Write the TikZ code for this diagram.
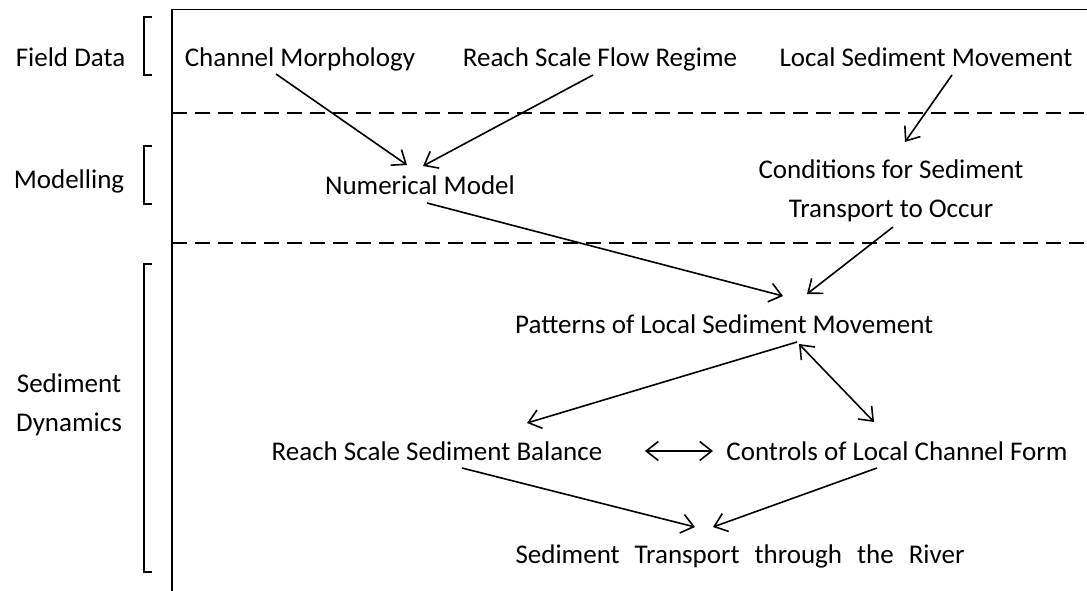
\documentclass[tikz,border=0pt]{standalone}
\usepackage{fontspec}
\setmainfont{Carlito}
\usepackage{tikz}
\usetikzlibrary{arrows.meta}

\tikzset{
    lbl/.style={font=\fontsize{27}{39}\selectfont, inner sep=0pt, align=center},
    arr/.style={-{Straight Barb[length=12pt,width=19pt]}, line width=1.6pt},
    dblarr/.style={{Straight Barb[length=12pt,width=19pt]}-{Straight Barb[length=12pt,width=19pt]}, line width=1.6pt},
    frame/.style={line width=1.6pt},
    band/.style={line width=1.6pt, dash pattern=on 15pt off 8pt}
}

\begin{document}
\begin{tikzpicture}[x=1pt, y=-1pt]
    \useasboundingbox (0,0) rectangle (1087,591);

    % Frame and band separators
    \draw[frame] (1087,9.5) -- (172,9.5) -- (172,591);
    \draw[band] (172,113) -- (1087,113);
    \draw[band] (172,243) -- (1087,243);

    % Stage labels with brackets
    \node[lbl, anchor=base] (field) at (70.5,67) {Field Data};
    \node[lbl, anchor=base] (model) at (69,188) {Modelling};
    \node[lbl, anchor=center] (dyn) at (69,405) {Sediment\\Dynamics};
    \draw[frame] (152,17) -- (144,17) -- (144,75) -- (152,75);
    \draw[frame] (152,146) -- (144,146) -- (144,204) -- (152,204);
    \draw[frame] (152,264) -- (144,264) -- (144,572) -- (152,572);

    % Field data
    \node[lbl, anchor=base] (chan) at (300,67) {Channel Morphology};
    \node[lbl, anchor=base] (flow) at (600,67) {Reach Scale Flow Regime};
    \node[lbl, anchor=base] (lsm) at (926,67) {Local Sediment Movement};

    % Modelling
    \node[lbl, anchor=base] (num) at (420,194) {Numerical Model};
    \node[lbl, anchor=center] (cond) at (891,191) {Conditions for Sediment\\Transport to Occur};

    % Sediment dynamics
    \node[lbl, anchor=base west] (pat) at (515,333) {Patterns of Local Sediment Movement};
    \node[lbl, anchor=base] (bal) at (437,460) {Reach Scale Sediment Balance};
    \node[lbl, anchor=base] (ctrl) at (897,460) {Controls of Local Channel Form};
    \node[lbl, anchor=base] (riv) at (740,563) {\spaceskip=15pt Sediment Transport through the River};

    % Links
    \draw[arr] ([shift={(-24,7)}]chan.base) -- ([shift={(-13,-29)}]num.base);
    \draw[arr] ([shift={(-7,8)}]flow.base) -- ([shift={(3,-28)}]num.base);
    \draw[arr] ([shift={(26,8)}]lsm.base) -- ([shift={(14,-49)}]cond.center);
    \draw[arr] ([shift={(7,9)}]num.base) -- ([shift={(268,-37)}]pat.base west);
    \draw[arr] ([shift={(2,36)}]cond.center) -- ([shift={(292,-39)}]pat.base west);
    \draw[arr] ([shift={(282,9)}]pat.base west) -- ([shift={(90,-37)}]bal.base);
    \draw[dblarr] ([shift={(284,11)}]pat.base west) -- ([shift={(-23,-38)}]ctrl.base);
    \draw[dblarr] ([shift={(208,-9)}]bal.base) -- ([shift={(-184,-9)}]ctrl.base);
    \draw[arr] ([shift={(25,8)}]bal.base) -- ([shift={(-45,-36)}]riv.base);
    \draw[arr] ([shift={(-20,8)}]ctrl.base) -- ([shift={(-27,-36)}]riv.base);

\end{tikzpicture}
\end{document}
